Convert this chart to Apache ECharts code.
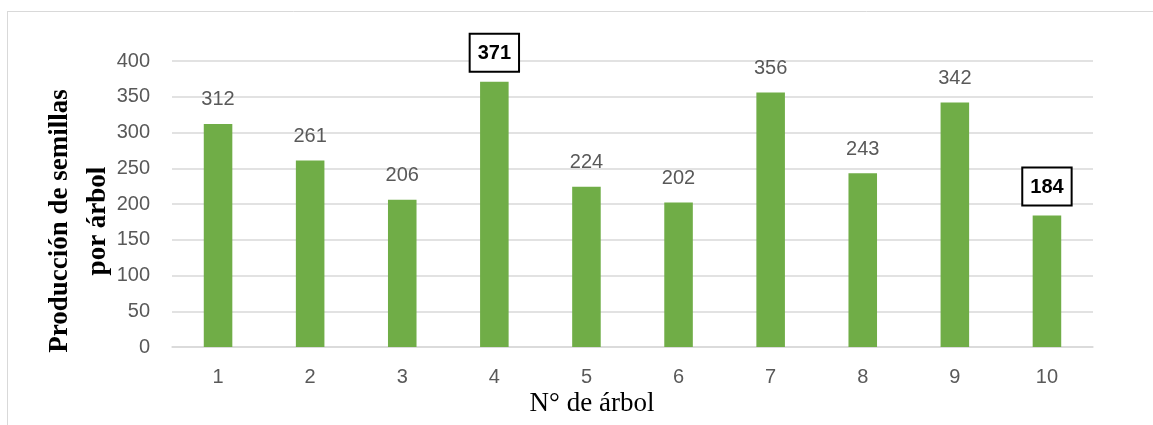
<!DOCTYPE html>
<html>
<head>
<meta charset="utf-8">
<script src="https://cdn.jsdelivr.net/npm/echarts@6/dist/echarts.min.js"></script>
<style>
  html, body { margin: 0; padding: 0; background: #fff; }
  #chart { width: 1153px; height: 425px; }
</style>
</head>
<body>
<div id="chart"></div>
<script>
// Seed production per tree
const trees = ['1', '2', '3', '4', '5', '6', '7', '8', '9', '10'];
const seeds = [312, 261, 206, 371, 224, 202, 356, 243, 342, 184];
// Trees whose value label is highlighted in a box (max and min)
const highlighted = ['4', '10'];
const yTicks = { min: 0, max: 400, step: 50 };

const labelFont = 'Liberation Sans, Arial, sans-serif';
const serifFont = 'Liberation Serif, Times New Roman, serif';

const barData = seeds.map((v, i) => {
  const item = { value: v };
  if (highlighted.includes(trees[i])) {
    item.label = {
      fontWeight: 'bold',
      color: '#000',
      fontSize: 20,
      borderColor: '#000',
      borderWidth: 2,
      backgroundColor: '#fff',
      padding: [9, 7, 7, 7],
      distance: 11
    };
  }
  return item;
});

const chart = echarts.init(document.getElementById('chart'), null, { renderer: 'canvas' });
chart.setOption({
  animation: false,
  backgroundColor: '#fff',
  grid: { left: 172, right: 60, top: 61, bottom: 78 },
  graphic: [
    { type: 'line', shape: { x1: 7, y1: 11.5, x2: 1153, y2: 11.5 }, style: { stroke: '#d9d9d9', lineWidth: 1 } },
    { type: 'line', shape: { x1: 7.5, y1: 11, x2: 7.5, y2: 425 }, style: { stroke: '#d9d9d9', lineWidth: 1 } },
    {
      type: 'text',
      style: {
        text: 'Producción de semillas\npor árbol',
        font: 'bold 27px ' + serifFont,
        fill: '#000',
        align: 'center',
        verticalAlign: 'middle',
        lineHeight: 38
      },
      x: 79,
      y: 221,
      rotation: Math.PI / 2
    },
    {
      type: 'text',
      style: {
        text: 'N° de árbol',
        font: '27px ' + serifFont,
        fill: '#000',
        align: 'center',
        verticalAlign: 'middle'
      },
      x: 592,
      y: 404
    }
  ],
  xAxis: {
    type: 'category',
    data: trees,
    axisLine: { show: true, lineStyle: { color: '#d9d9d9', width: 1.5 } },
    axisTick: { show: false },
    axisLabel: { color: '#595959', fontSize: 20, fontFamily: labelFont, margin: 20 }
  },
  yAxis: {
    type: 'value',
    min: yTicks.min,
    max: yTicks.max,
    interval: yTicks.step,
    axisLine: { show: false },
    axisTick: { show: false },
    splitLine: { lineStyle: { color: '#d9d9d9', width: 1.5 } },
    axisLabel: { color: '#595959', fontSize: 20, fontFamily: labelFont, margin: 22 }
  },
  series: [{
    type: 'bar',
    data: barData,
    barWidth: '31%',
    itemStyle: { color: '#70ad47' },
    label: {
      show: true,
      position: 'top',
      distance: 14,
      color: '#595959',
      fontSize: 20,
      fontFamily: labelFont
    }
  }]
});
</script>
</body>
</html>
